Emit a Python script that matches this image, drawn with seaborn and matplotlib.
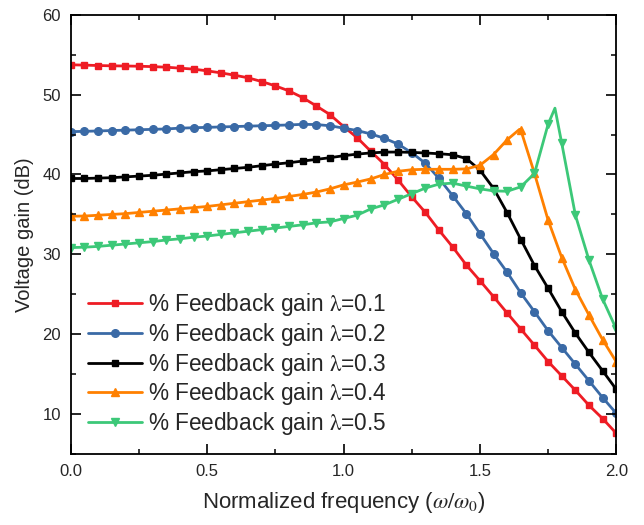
import numpy as np
import pandas as pd
import matplotlib
matplotlib.use("Agg")
import matplotlib.pyplot as plt
from matplotlib.lines import Line2D
import seaborn as sns

# normalized frequency of the markers (one every 0.05)
freq = np.linspace(0, 2, 41)

gain_01 = [53.73, 53.69, 53.64, 53.60, 53.58, 53.55, 53.50, 53.43, 53.31, 53.19,
           52.97, 52.72, 52.43, 52.10, 51.63, 51.09, 50.46, 49.62, 48.58, 47.50,
           46.00, 44.60, 42.90, 41.25, 39.30, 37.20, 35.25, 33.02, 30.93, 28.67,
           26.71, 24.70, 22.65, 20.64, 18.63, 16.59, 14.79, 12.99, 11.10, 9.44, 7.60]
gain_02 = [45.36, 45.40, 45.45, 45.50, 45.55, 45.60, 45.65, 45.70, 45.80, 45.85,
           45.90, 45.95, 46.00, 46.05, 46.10, 46.15, 46.20, 46.28, 46.25, 46.10,
           45.80, 45.50, 45.07, 44.53, 43.80, 42.72, 41.40, 39.50, 37.35, 35.10,
           32.60, 30.10, 27.75, 25.16, 22.82, 20.44, 18.34, 16.25, 14.17, 12.07, 10.10]
gain_03 = [39.50, 39.50, 39.55, 39.60, 39.70, 39.80, 39.90, 40.05, 40.20, 40.35,
           40.45, 40.60, 40.75, 40.90, 41.10, 41.30, 41.47, 41.68, 41.89, 42.10,
           42.35, 42.55, 42.70, 42.80, 42.81, 42.77, 42.69, 42.60, 42.47, 42.00,
           40.55, 38.26, 35.20, 31.86, 28.60, 25.75, 22.82, 20.14, 17.72, 15.42, 13.10]
gain_04 = [34.78, 34.80, 34.90, 35.00, 35.10, 35.25, 35.40, 35.55, 35.70, 35.85,
           36.00, 36.20, 36.40, 36.60, 36.80, 37.00, 37.25, 37.50, 37.80, 38.20,
           38.70, 39.05, 39.45, 40.00, 40.40, 40.60, 40.65, 40.65, 40.65, 40.70,
           41.15, 42.50, 44.35, 45.55, 40.13, 34.28, 29.60, 25.59, 22.40, 19.31, 16.55]
gain_05 = [30.85, 30.90, 31.00, 31.15, 31.30, 31.45, 31.60, 31.80, 31.95, 32.15,
           32.30, 32.50, 32.70, 32.90, 33.10, 33.30, 33.50, 33.70, 33.95, 34.07,
           34.49, 34.91, 35.70, 36.20, 36.90, 37.60, 38.30, 38.80, 38.92, 38.55,
           38.20, 37.95, 37.90, 38.46, 40.13, 46.30, 43.90, 34.91, 29.26, 24.40, 20.64]

# resonance peaks that fall between markers
peak_x_05 = [1.775]
peak_y_05 = [48.3]
peak_x_04 = [1.645]
peak_y_04 = [45.65]

xticks = [0, 0.5, 1.0, 1.5, 2.0]
xtick_labels = ["0.0", "0.5", "1.0", "1.5", "2.0"]
yticks = [10, 20, 30, 40, 50, 60]

labels = [r"% Feedback gain $\mathrm{\lambda}$=0.1", r"% Feedback gain $\mathrm{\lambda}$=0.2",
          r"% Feedback gain $\mathrm{\lambda}$=0.3", r"% Feedback gain $\mathrm{\lambda}$=0.4",
          r"% Feedback gain $\mathrm{\lambda}$=0.5"]
colors = ["#ee1c24", "#3a6aa6", "#000000", "#ff8000", "#3cc878"]
markers = ["s", "o", "s", "^", "v"]
msizes = [5, 5.5, 5, 6, 6]

sns.set_style("ticks")
plt.rcParams["font.family"] = ["Liberation Sans", "DejaVu Sans"]
plt.rcParams["mathtext.fontset"] = "stix"

fig = plt.figure(figsize=(6.44, 5.25), dpi=100)
ax = fig.add_axes([0.110, 0.135, 0.847, 0.837])

series = [gain_01, gain_02, gain_03, gain_04, gain_05]
extras = [([], []), ([], []), ([], []), (peak_x_04, peak_y_04), (peak_x_05, peak_y_05)]

handles = []
for gain, (ex, ey), lab, c, m, ms in zip(series, extras, labels, colors, markers, msizes):
    line_df = pd.DataFrame({"freq": list(freq) + list(ex), "gain": list(gain) + list(ey)})
    sns.lineplot(data=line_df, x="freq", y="gain", color=c, lw=2, sort=True,
                 estimator=None, legend=False, ax=ax)
    ax.plot(freq, gain, ls="none", marker=m, ms=ms, color=c, mec=c)
    handles.append(Line2D([], [], color=c, lw=2, marker=m, ms=ms, mec=c, label=lab))

ax.set_xlim(0, 2)
ax.set_ylim(5, 60)
ax.set_xticks(xticks, labels=xtick_labels)
ax.set_xticks(np.arange(0, 2.01, 0.25), minor=True)
ax.set_yticks(yticks)
ax.set_yticks(np.arange(5, 61, 5), minor=True)

ax.set_xlabel(r"Normalized frequency ($\omega/\omega_0$)", fontsize=16, labelpad=8)
ax.set_ylabel("Voltage gain (dB)", fontsize=14.5, labelpad=6)

ax.legend(handles=handles, loc="upper left", bbox_to_anchor=(0.031, 0.371),
          frameon=False, fontsize=16.3, borderpad=0, borderaxespad=0,
          handlelength=2.4, handletextpad=0.25, labelspacing=0.12)

for sp in ax.spines.values():
    sp.set_linewidth(1.3)
    sp.set_edgecolor("black")

ax.tick_params(which="both", direction="in", bottom=True, top=True, left=True, right=True,
               color="black", labelsize=12, pad=7)
ax.tick_params(which="major", length=7, width=1.2)
ax.tick_params(which="minor", length=3.5, width=1.1)

# make sure the inward ticks end up drawn on top of everything
fig.canvas.draw()
ax.xaxis.set_zorder(5)
ax.yaxis.set_zorder(5)
for axis in (ax.xaxis, ax.yaxis):
    for t, size, w in [(t, 7, 1.2) for t in axis.get_major_ticks()] + \
                      [(t, 3.5, 1.1) for t in axis.get_minor_ticks()]:
        for tl in (t.tick1line, t.tick2line):
            tl.set_visible(True)
            tl.set_markersize(size)
            tl.set_markeredgewidth(w)
            tl.set_color("black")
            tl.set_alpha(1)

fig.savefig("out.png", dpi=100)
